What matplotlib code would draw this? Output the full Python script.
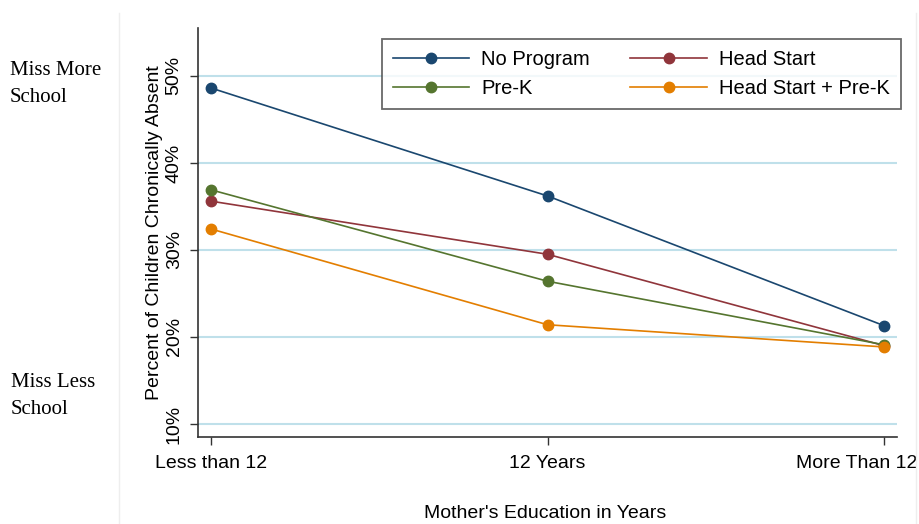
import matplotlib.pyplot as plt
import matplotlib.transforms as mtransforms
from matplotlib.lines import Line2D

plt.rcParams['font.family'] = ['Liberation Sans', 'DejaVu Sans']

categories = ["Less than 12", "12 Years", "More Than 12"]
no_program = [48.6, 36.2, 21.3]
head_start = [35.6, 29.5, 19.0]
pre_k = [36.9, 26.4, 19.1]
hs_pre_k = [32.4, 21.4, 18.85]
yticks = [10, 20, 30, 40, 50]

series = [
    ("No Program", no_program, "#1a476f"),
    ("Head Start", head_start, "#90353b"),
    ("Pre-K", pre_k, "#55752f"),
    ("Head Start + Pre-K", hs_pre_k, "#e37e00"),
]

W, H = 919, 524
fig = plt.figure(figsize=(W / 100, H / 100), dpi=100)
ax = fig.add_axes([198 / W, 1 - 437 / H, (897 - 198) / W, (437 - 28) / H])

x = list(range(len(categories)))
for name, vals, col in series:
    ax.plot(x, vals, "-o", color=col, lw=1.2, ms=7.5, label=name, zorder=3)

for t in yticks:
    ax.axhline(t, color="#bfe0ea", lw=1.5, zorder=1)

ax.set_xlim(-0.039, 2.039)
ax.set_ylim(8.5, 55.5)
ax.set_xticks(x)
ax.set_xticklabels(categories, fontsize=14)
ax.set_yticks(yticks)
ax.set_yticklabels([f"{t}%" for t in yticks], fontsize=14, rotation=90, va="center")
ax.tick_params(direction="out", length=6, width=1, color="#333333")
ax.tick_params(axis="x", pad=7)
ax.tick_params(axis="y", pad=5)
# last label is pushed left so it stays inside the figure
last = ax.get_xticklabels()[-1]
last.set_transform(last.get_transform() + mtransforms.ScaledTranslation(-0.27, 0, fig.dpi_scale_trans))
for s in ["top", "right"]:
    ax.spines[s].set_visible(False)
for s in ["left", "bottom"]:
    ax.spines[s].set_color("#333333")
    ax.spines[s].set_linewidth(1.2)

ax.set_ylabel("Percent of Children Chronically Absent", fontsize=14, labelpad=2)
fig.text(545 / W, 1 - 514 / H, "Mother's Education in Years", fontsize=14, ha="center", va="center")

# legend: columns ordered No Program/Pre-K, Head Start/HS+Pre-K
handles, labels = ax.get_legend_handles_labels()
order = [0, 2, 1, 3]
leg = fig.legend([handles[i] for i in order], [labels[i] for i in order], ncol=2,
                 loc="upper right", bbox_to_anchor=(901 / W, 1 - 39 / H),
                 frameon=True, fancybox=False, fontsize=14.5, handlelength=3.8,
                 handletextpad=0.6, columnspacing=2.0, labelspacing=0.5,
                 borderpad=0.55, borderaxespad=0)
leg.get_frame().set_edgecolor("#444444")
leg.get_frame().set_linewidth(1.3)

serif = ['Liberation Serif', 'DejaVu Serif']
fig.text(10 / W, 1 - 84 / H, "Miss More\nSchool", family=serif, fontsize=15,
         ha="left", va="center", linespacing=1.6)
fig.text(11 / W, 1 - 396 / H, "Miss Less\nSchool", family=serif, fontsize=15,
         ha="left", va="center", linespacing=1.55)

# faint panel borders
fig.add_artist(Line2D([119 / W, 119 / W], [0, 1 - 13 / H], color="#eeeeee", lw=1))
fig.add_artist(Line2D([916 / W, 916 / W], [0, 1 - 13 / H], color="#eeeeee", lw=1))

fig.savefig("out.png", dpi=100)
